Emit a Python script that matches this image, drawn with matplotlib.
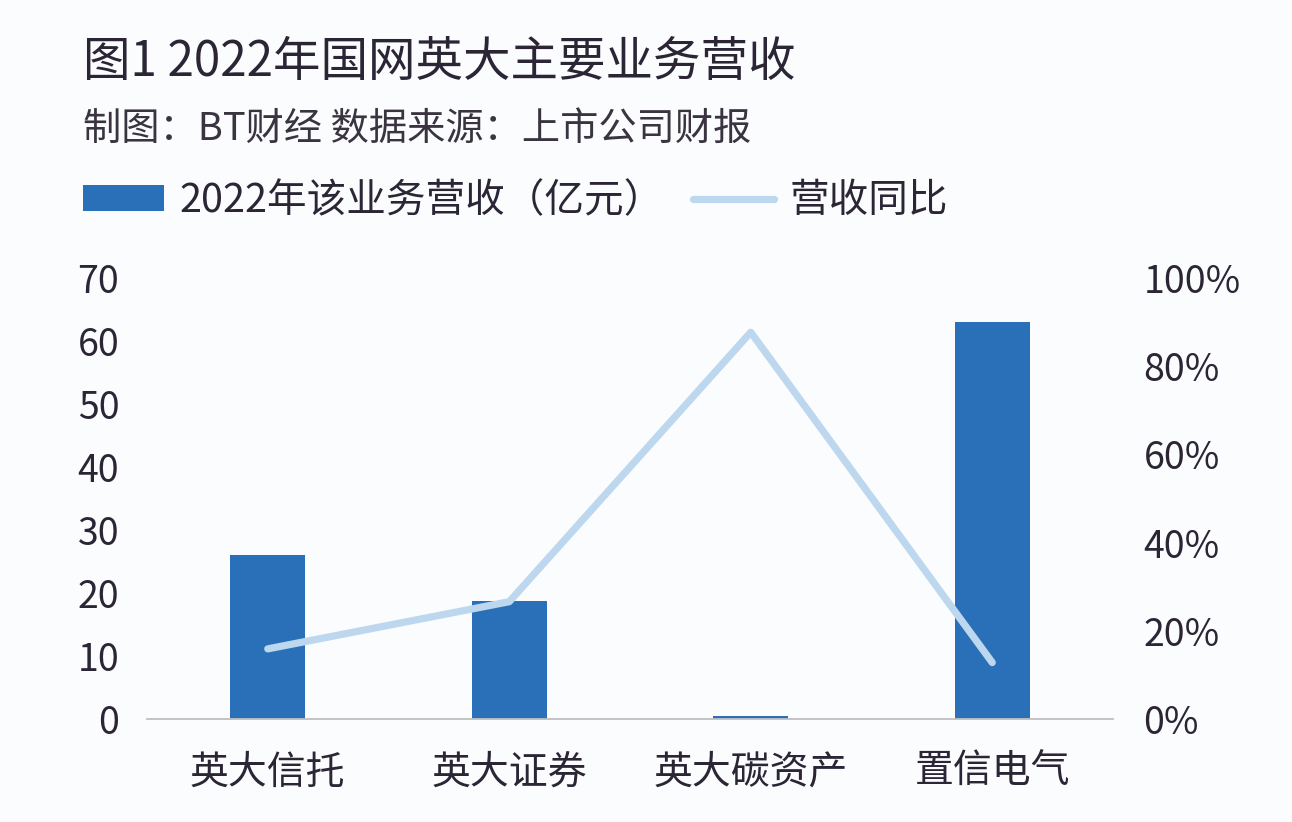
import matplotlib
matplotlib.use("Agg")
import matplotlib.pyplot as plt
from matplotlib.ticker import FuncFormatter

plt.rcParams['font.family'] = ['Noto Sans CJK SC', 'DejaVu Sans']

categories = ['英大信托', '英大证券', '英大碳资产', '置信电气']
revenue = [26.0, 18.7, 0.4, 63.0]          # 2022年该业务营收（亿元）
yoy = [15.9, 26.6, 87.7, 12.8]             # 营收同比 (%)
left_ticks = [0, 10, 20, 30, 40, 50, 60, 70]
right_ticks = [0, 20, 40, 60, 80, 100]

title = '图1 2022年国网英大主要业务营收'
subtitle = '制图：BT财经 数据来源：上市公司财报'
bar_label = '2022年该业务营收（亿元）'
line_label = '营收同比'

BG = '#FBFCFE'
BAR = '#2A70B8'
LINE = '#BDD7EE'
TXT = '#2B2535'
AXC = '#BFBFBF'

W, H = 1292, 822
fig = plt.figure(figsize=(W / 100, H / 100), dpi=100, facecolor=BG)
ax = fig.add_axes([147 / W, 1 - 719 / H, (1113 - 147) / W, (719 - 278) / H])
ax.set_facecolor(BG)
ax2 = ax.twinx()

x = list(range(len(categories)))
bars = ax.bar(x, revenue, width=0.31, color=BAR, zorder=2, label=bar_label)
ln, = ax2.plot(x, yoy, color=LINE, lw=5.2, solid_capstyle='round',
               solid_joinstyle='round', zorder=3, label=line_label)

ax.set_xlim(-0.5, len(categories) - 0.5)
ax.set_ylim(0, 70)
ax2.set_ylim(0, 100)
ax.set_yticks(left_ticks)
ax2.set_yticks(right_ticks)
ax2.yaxis.set_major_formatter(FuncFormatter(lambda v, p: f'{v:.0f}%'))
ax.set_xticks(x)
ax.set_xticklabels(categories)

for a in (ax, ax2):
    for s in ['top', 'left', 'right', 'bottom']:
        a.spines[s].set_visible(False)
ax.spines['bottom'].set_visible(True)
ax.spines['bottom'].set_color(AXC)
ax.spines['bottom'].set_linewidth(1.3)

ax.tick_params(axis='y', length=0, pad=20, labelsize=27, labelcolor=TXT)
ax2.tick_params(axis='y', length=0, pad=22, labelsize=27, labelcolor=TXT)
ax.tick_params(axis='x', length=0, pad=24, labelsize=28, labelcolor=TXT)

fig.text(83 / W, 1 - 62 / H, title, fontsize=34.2, color=TXT, va='center',
         ha='left', fontweight='medium')
fig.text(83 / W, 1 - 129 / H, subtitle, fontsize=27.5, color='#3A3440',
         va='center', ha='left')

leg = fig.legend(handles=[bars, ln], labels=[bar_label, line_label],
                 loc='center left', bbox_to_anchor=(83 / W, 1 - 201 / H),
                 ncol=2, frameon=False, fontsize=28.5, handlelength=2.05,
                 handleheight=0.62, handletextpad=0.38, columnspacing=0.75,
                 borderpad=0, borderaxespad=0)
for t in leg.get_texts():
    t.set_color(TXT)

fig.savefig('out.png', dpi=100, facecolor=BG)
